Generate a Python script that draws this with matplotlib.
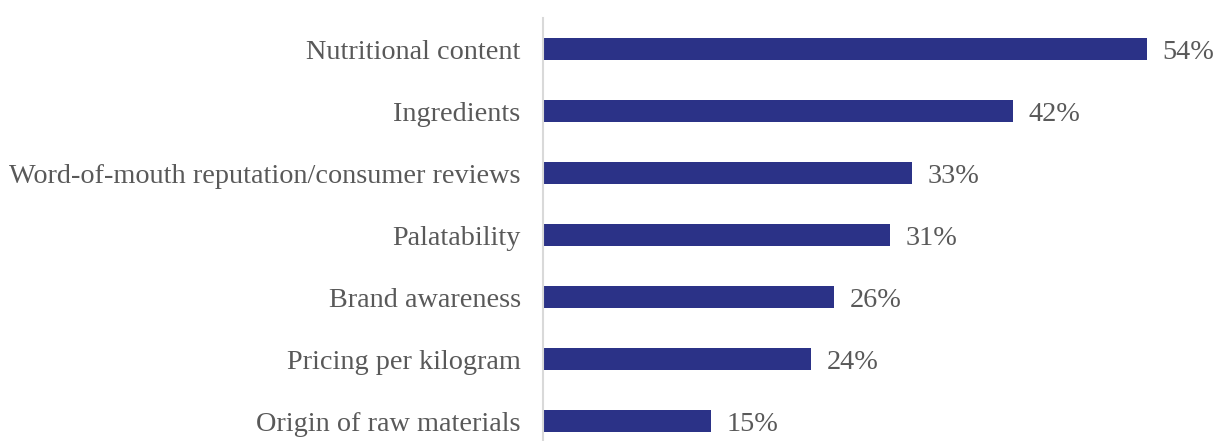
import matplotlib.pyplot as plt

# Purchase factors, top to bottom
factors = ['Nutritional content', 'Ingredients',
           'Word-of-mouth reputation/consumer reviews', 'Palatability',
           'Brand awareness', 'Pricing per kilogram', 'Origin of raw materials']
shares = [54, 42, 33, 31, 26, 24, 15]  # percent of respondents

plt.rcParams['font.family'] = ['Liberation Serif', 'DejaVu Serif']

fig = plt.figure(figsize=(12.16, 4.41), dpi=100)
ax = fig.add_axes([0.4465, -0.025, 0.552, 0.984])

ypos = range(len(factors))
bars = ax.barh(ypos, shares, height=0.36, color='#2b3287')

ax.set_ylim(len(factors) - 0.5, -0.5)
ax.set_xlim(0, 60)
ax.set_yticks(list(ypos))
ax.set_yticklabels(factors, fontsize=20.3, color='#595959', va='center_baseline')
ax.tick_params(axis='y', length=0, pad=16)
ax.set_xticks([])

for side in ['top', 'right', 'bottom']:
    ax.spines[side].set_visible(False)
ax.spines['left'].set_color('#d9d9d9')
ax.spines['left'].set_linewidth(1.5)

for bar, val in zip(bars, shares):
    ax.text(bar.get_width() + 1.4, bar.get_y() + bar.get_height() / 2,
            f'{val}%', va='center_baseline', ha='left', fontsize=20.3, color='#595959')

plt.savefig('out.png', dpi=100)
